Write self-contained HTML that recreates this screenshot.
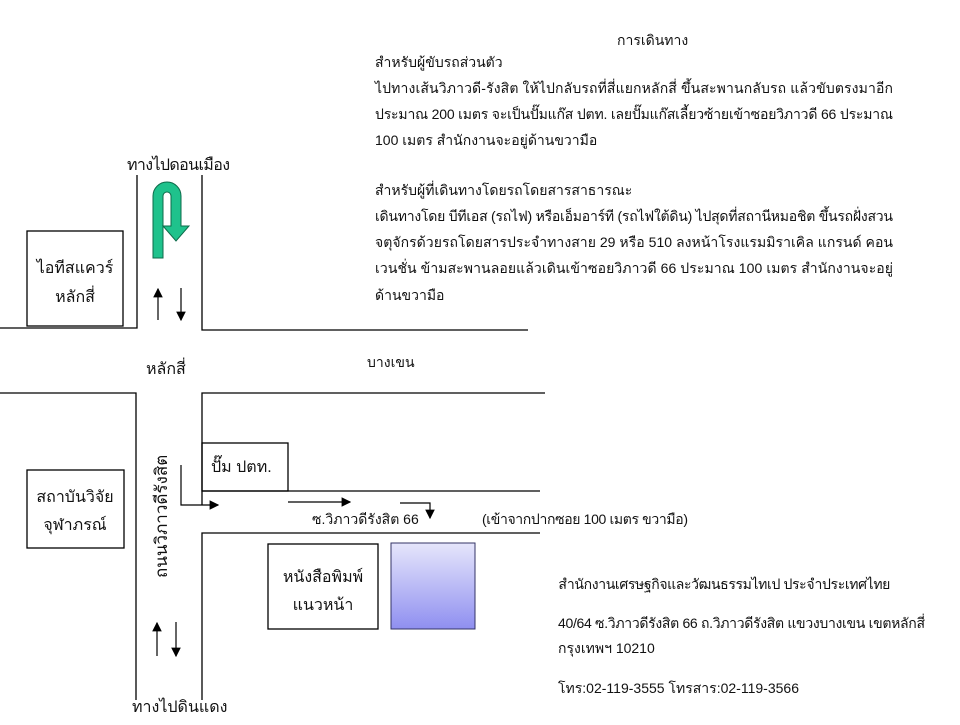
<!DOCTYPE html>
<html><head><meta charset="utf-8"><style>
body{margin:0;background:#fff;}
svg text{font-family:"Liberation Sans","Noto Sans CJK SC",sans-serif;fill:#111;}
</style></head><body>
<svg width="960" height="720" xmlns="http://www.w3.org/2000/svg">
<defs>
<linearGradient id="pg" x1="0" y1="0" x2="0" y2="1"><stop offset="0" stop-color="#e6e6fb"/><stop offset="1" stop-color="#8f8ff0"/></linearGradient>
<marker id="ah" markerWidth="8" markerHeight="8" refX="7" refY="4" orient="auto"><path d="M0,0 L8,4 L0,8 z" fill="#000"/></marker>
</defs>
<g stroke="#000" stroke-width="1.3" fill="none">
<path d="M137,175 V328 H0"/>
<path d="M202,175 V330 H528"/>
<path d="M0,393 H136 V700"/>
<path d="M545,393 H202 V505"/>
<path d="M202,491 H540"/>
<path d="M540,533 H202 V700"/>
<rect x="27" y="231" width="96" height="95"/>
<rect x="27" y="470" width="97" height="78"/>
<rect x="202" y="443" width="86" height="48"/>
<rect x="268" y="544" width="110" height="85"/>
</g>
<rect x="391" y="543" width="84" height="86" fill="url(#pg)" stroke="#336" stroke-width="1"/>
<g stroke="#000" stroke-width="1.2" fill="none" marker-end="url(#ah)">
<path d="M181,465 V505 H218"/>
<path d="M288,502 H350"/>
<path d="M400,503 H430 V518"/>
<path d="M158,320 V289"/>
<path d="M181,288 V320"/>
<path d="M157,656 V623"/>
<path d="M176,622 V656"/>
</g>
<path d="M153,258 V196 A14,14 0 0 1 181,196 V226 H189 L176,241 L163,226 H171 V196 A4,4 0 0 0 163,196 V258 Z" fill="#1fc28c" stroke="#0d6b4a" stroke-width="1"/>
<g font-size="14">
<text x="617" y="45">การเดินทาง</text>
<text x="375" y="67">สำหรับผู้ขับรถส่วนตัว</text>
<text x="375" y="93" textLength="518">ไปทางเส้นวิภาวดี-รังสิต ให้ไปกลับรถที่สี่แยกหลักสี่ ขึ้นสะพานกลับรถ แล้วขับตรงมาอีก</text>
<text x="375" y="119" textLength="518">ประมาณ 200 เมตร จะเป็นปั๊มแก๊ส ปตท. เลยปั๊มแก๊สเลี้ยวซ้ายเข้าซอยวิภาวดี 66 ประมาณ</text>
<text x="375" y="145">100  เมตร สำนักงานจะอยู่ด้านขวามือ</text>
<text x="375" y="195">สำหรับผู้ที่เดินทางโดยรถโดยสารสาธารณะ</text>
<text x="375" y="221" textLength="518">เดินทางโดย บีทีเอส (รถไฟ) หรือเอ็มอาร์ที (รถไฟใต้ดิน) ไปสุดที่สถานีหมอชิต ขึ้นรถฝั่งสวน</text>
<text x="375" y="247" textLength="518">จตุจักรด้วยรถโดยสารประจำทางสาย 29 หรือ 510 ลงหน้าโรงแรมมิราเคิล แกรนด์ คอน</text>
<text x="375" y="273" textLength="518">เวนชั่น ข้ามสะพานลอยแล้วเดินเข้าซอยวิภาวดี 66 ประมาณ 100 เมตร สำนักงานจะอยู่</text>
<text x="375" y="300">ด้านขวามือ</text>
<text x="367" y="367">บางเขน</text>
<text x="312" y="524">ซ.วิภาวดีรังสิต 66</text>
<text x="482" y="524" textLength="206">(เข้าจากปากซอย  100 เมตร ขวามือ)</text>
<text x="558" y="589" textLength="332">สำนักงานเศรษฐกิจและวัฒนธรรมไทเป  ประจำประเทศไทย</text>
<text x="558" y="628" textLength="367">40/64 ซ.วิภาวดีรังสิต 66 ถ.วิภาวดีรังสิต แขวงบางเขน เขตหลักสี่</text>
<text x="558" y="653">กรุงเทพฯ 10210</text>
<text x="558" y="693" textLength="241">โทร:02-119-3555 โทรสาร:02-119-3566</text>
</g>
<g font-size="16">
<text x="127" y="170" textLength="103">ทางไปดอนเมือง</text>
<text x="75" y="273" text-anchor="middle">ไอทีสแควร์</text>
<text x="75" y="302" text-anchor="middle">หลักสี่</text>
<text x="146" y="374">หลักสี่</text>
<text x="211" y="472">ปั๊ม ปตท.</text>
<text x="75" y="502" text-anchor="middle">สถาบันวิจัย</text>
<text x="75" y="530" text-anchor="middle">จุฬาภรณ์</text>
<text x="323" y="582" text-anchor="middle">หนังสือพิมพ์</text>
<text x="323" y="610" text-anchor="middle">แนวหน้า</text>
<text x="132" y="712">ทางไปดินแดง</text>
<text transform="translate(167,578) rotate(-90)" font-size="17">ถนนวิภาวดีรังสิต</text>
</g>
</svg>
</body></html>
